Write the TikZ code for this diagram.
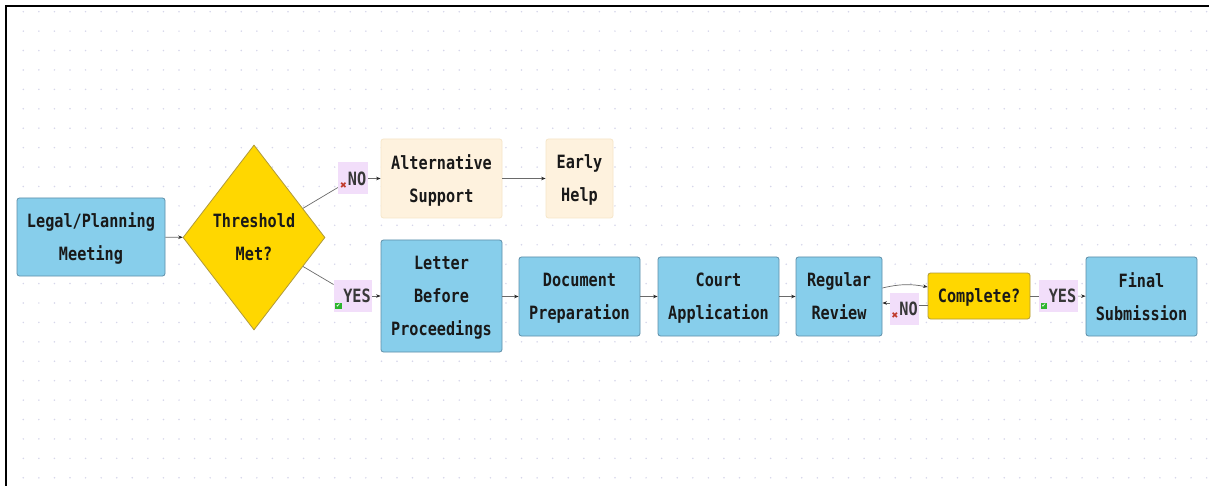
\documentclass[tikz,border=0pt]{standalone}
\usepackage{fontspec}
\usetikzlibrary{shapes.geometric,arrows.meta}
\newfontfamily\monofont[FakeStretch=0.83]{DejaVu Sans Mono}
\newfontfamily\symfont{DejaVu Sans}
\definecolor{skyfill}{HTML}{87CEEB}
\definecolor{skyline}{HTML}{5E8EA8}
\definecolor{goldfill}{HTML}{FFD700}
\definecolor{goldline}{HTML}{B09A3A}
\definecolor{creamfill}{HTML}{FEF2DE}
\definecolor{creamline}{HTML}{F6E6C8}
\definecolor{lblfill}{HTML}{F2DEFA}
\definecolor{dotc}{HTML}{D6D6EA}
\definecolor{connc}{HTML}{6A6A6A}
\definecolor{xred}{HTML}{C0392B}
\definecolor{cgreen}{HTML}{2DB52D}
\newcommand{\xicon}{\raisebox{-3pt}{\textcolor{xred}{\symfont\bfseries\fontsize{8.5}{8.5}\selectfont ✖}}\kern1pt}
\newcommand{\chkicon}{\raisebox{-5pt}{{\setlength{\fboxsep}{1pt}\colorbox{cgreen}{\textcolor{white}{\symfont\fontsize{5.5}{5.5}\selectfont ✔}}}}\kern1.5pt}
\begin{document}
\begin{tikzpicture}[x=1pt,y=-1pt,
  nodetext/.style={font=\monofont\bfseries\fontsize{18.3}{33}\selectfont, text=black!90, align=center, inner sep=0pt, text depth=-2.5pt},
  bluebox/.style={nodetext, rectangle, rounded corners=2.5pt, fill=skyfill, draw=skyline, line width=0.8pt},
  creambox/.style={nodetext, rectangle, rounded corners=2.5pt, fill=creamfill, draw=creamline, line width=0.8pt},
  goldbox/.style={nodetext, rectangle, rounded corners=2.5pt, fill=goldfill, draw=goldline, line width=0.8pt},
  golddiamond/.style={nodetext, diamond, aspect=0.77, fill=goldfill, draw=goldline, line width=0.8pt},
  lbl/.style={font=\monofont\bfseries\fontsize{18.3}{22}\selectfont, text=black!78, fill=lblfill, inner xsep=1.5pt, inner ysep=0pt, minimum height=32pt, text height=13.3pt, text depth=0pt},
  conn/.style={draw=connc, line width=0.7pt},
  arr/.style={conn, -{Stealth[length=4.5pt,width=3.5pt,color=black!85]}}
]
\useasboundingbox (0,0) rectangle (1209,486);
\fill[white] (0,0) rectangle (1209,486);
% dotted grid
\foreach \i in {0,...,76}{
  \foreach \j in {0,...,24}{
    \fill[dotc] (23.3+15.57*\i, 11.7+19.42*\j) circle (0.85);
  }
}
% frame
\draw[line width=2.3pt, black] (6.2,486) -- (6.2,6.2) -- (1209,6.2);

% nodes
\node[bluebox, minimum width=148pt, minimum height=78pt] (lp) at (91,237) {Legal/Planning\\Meeting};
\node[golddiamond, minimum width=142pt, minimum height=185pt] (dm) at (254,237.5) {Threshold\\Met?};
\node[lbl, minimum width=30pt] (no1) at (353,178.5) {\xicon NO};
\node[lbl, minimum width=38pt] (yes1) at (353,296) {\chkicon YES};
\node[creambox, minimum width=121pt, minimum height=79pt] (alt) at (441.5,178.5) {Alternative\\Support};
\node[creambox, minimum width=67pt, minimum height=79pt] (eh) at (579.5,178.5) {Early\\Help};
\node[bluebox, minimum width=121pt, minimum height=112pt] (lbp) at (441.5,296) {Letter\\Before\\Proceedings};
\node[bluebox, minimum width=121pt, minimum height=79pt] (dp) at (579.5,296.5) {Document\\Preparation};
\node[bluebox, minimum width=121pt, minimum height=79pt] (ca) at (718.5,296.5) {Court\\Application};
\node[bluebox, minimum width=86pt, minimum height=79pt] (rr) at (839,296.5) {Regular\\Review};
\node[goldbox, minimum width=102pt, minimum height=46pt] (cp) at (979,296) {Complete?};
\node[lbl, minimum width=29pt] (no2) at (904.5,308.5) {\xicon NO};
\node[lbl, minimum width=39pt] (yes2) at (1058.5,296) {\chkicon YES};
\node[bluebox, minimum width=111pt, minimum height=79pt] (fs) at (1141.5,296.5) {Final\\Submission};

% connectors
\draw[arr] (lp) -- (dm);
\draw[conn] (dm) -- (no1);
\draw[arr] (no1) -- (alt);
\draw[conn] (dm) -- (yes1);
\draw[arr] (yes1) -- (yes1 -| lbp.west);
\draw[arr] (alt) -- (eh);
\draw[arr] (lbp.east |- dp) -- (dp);
\draw[arr] (dp) -- (ca);
\draw[arr] (ca) -- (rr);
\draw[arr] ([yshift=8.5pt]rr.east) to[bend left=12] ([yshift=9pt]cp.west);
\coordinate (n2r) at ([yshift=3.5pt]no2.east);
\coordinate (n2l) at ([yshift=5.5pt]no2.west);
\draw[conn] (n2r -| cp.west) -- (n2r);
\draw[arr] (n2l) -- (n2l -| rr.east);
\draw[conn] (cp) -- (yes2);
\draw[arr] (yes2) -- (fs);
\end{tikzpicture}
\end{document}
